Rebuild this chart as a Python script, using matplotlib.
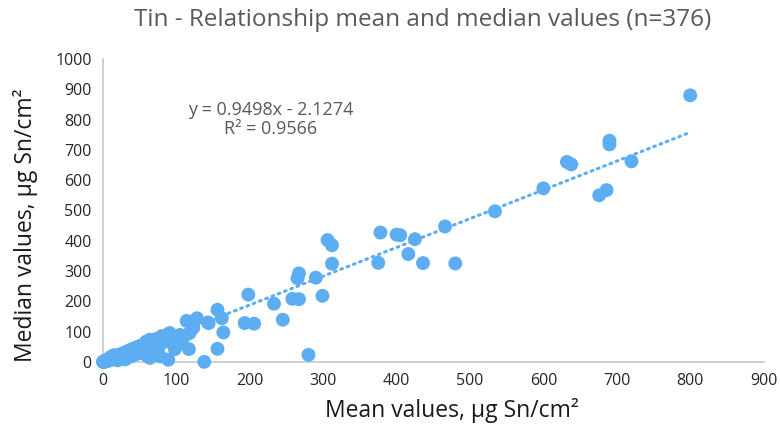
import numpy as np
import matplotlib
matplotlib.use("Agg")
import matplotlib.pyplot as plt

plt.rcParams['font.family'] = ['Open Sans', 'DejaVu Sans']

# mean / median pairs (µg Sn/cm2)
mean_vals = [
    # dense cluster near the origin
    0, 0.5, 1, 1, 2, 2, 3, 3, 4, 4, 5, 5, 6, 6, 7, 7, 8, 8, 9, 9,
    10, 10, 11, 12, 13, 14, 15, 15, 16, 17, 18, 19, 20, 20, 21, 22, 23, 24, 25, 25,
    26, 27, 28, 29, 30, 30, 31, 32, 33, 34, 35, 35, 36, 37, 38, 39, 40, 40, 41, 42,
    43, 44, 45, 45, 46, 47, 48, 50, 50, 52, 54, 55, 56, 58, 60, 60, 62, 65, 65, 68,
    70, 70, 72, 75, 75, 78, 80, 83, 85, 88,
    # mid cluster
    54, 59, 64, 64, 73, 78, 80, 87, 89, 91, 98, 100, 105, 109, 114, 118, 123, 128,
    143, 117, 156, 156, 162, 164, 138, 144,
    # spread points
    193, 198, 206, 233, 245, 258, 267, 265, 267, 280, 290, 299, 306, 312, 312,
    375, 378, 400, 405, 416, 425, 436, 466, 480, 534,
    600, 632, 638, 676, 686, 690, 690, 720, 800,
]
median_vals = [
    0, 0.5, 1, 0, 3, 1, 1, 2, 5, 3, 2, 4, 6, 3, 4, 7, 9, 5, 6, 10,
    8, 15, 12, 7, 10, 15, 11, 22, 13, 18, 12, 16, 21, 5, 14, 19, 24, 17, 22, 10,
    27, 20, 25, 30, 23, 8, 28, 33, 26, 31, 36, 15, 29, 34, 40, 32, 37, 20, 43, 35,
    40, 46, 38, 25, 44, 49, 41, 47, 30, 54, 45, 35, 52, 60, 50, 20, 57, 63, 40, 55,
    66, 30, 75, 62, 45, 70, 85, 65, 78, 90,
    45, 67, 13, 73, 29, 18, 82, 83, 7, 95, 42, 56, 89, 78, 135, 95, 112, 144,
    130, 42, 172, 43, 144, 97, 0, 128,
    128, 222, 126, 192, 139, 208, 207, 276, 292, 23, 278, 218, 402, 385, 324,
    327, 427, 420, 418, 356, 405, 326, 447, 325, 497,
    573, 660, 652, 550, 567, 730, 718, 662, 880,
]

# trendline as printed on the chart
slope = 0.9498
intercept = -2.1274

blue = '#5DADF2'
grey_text = '#595959'

fig = plt.figure(figsize=(7.8, 4.37), dpi=100)
ax = fig.add_axes([0.132, 0.172, 0.847, 0.693])

ax.scatter(mean_vals, median_vals, s=100, color=blue, edgecolors='none',
           zorder=3, clip_on=False)

tx = np.array([0, max(mean_vals)])
ax.plot(tx, slope * tx + intercept, color=blue, linewidth=2.2,
        linestyle=(0, (0.6, 1.6)), dash_capstyle='round', zorder=2)

ax.text(228, 832, "y = 0.9498x - 2.1274", ha='center', va='center',
        fontsize=13, color=grey_text)
ax.text(228, 770, "R² = 0.9566", ha='center', va='center',
        fontsize=13, color=grey_text)

ax.set_xlim(0, 900)
ax.set_ylim(0, 1000)
ax.set_xticks(range(0, 901, 100))
ax.set_yticks(range(0, 1001, 100))
ax.tick_params(length=0, labelsize=11.5, labelcolor='#262626', pad=8)

for side in ['top', 'right']:
    ax.spines[side].set_visible(False)
for side in ['left', 'bottom']:
    ax.spines[side].set_color('#c8c8c8')
    ax.spines[side].set_linewidth(1.2)

ax.set_xlabel("Mean values, µg Sn/cm²", fontsize=16.5, color='#1a1a1a')
ax.set_ylabel("Median values, µg Sn/cm²", fontsize=16.5, color='#1a1a1a')
ax.xaxis.set_label_coords(0.528, -0.12)
ax.yaxis.set_label_coords(-0.098, 0.45)

fig.text(0.542, 0.955, "Tin - Relationship mean and median values (n=376)",
         ha='center', va='center', fontsize=17.5, color=grey_text)

fig.savefig("out.png", dpi=100)
